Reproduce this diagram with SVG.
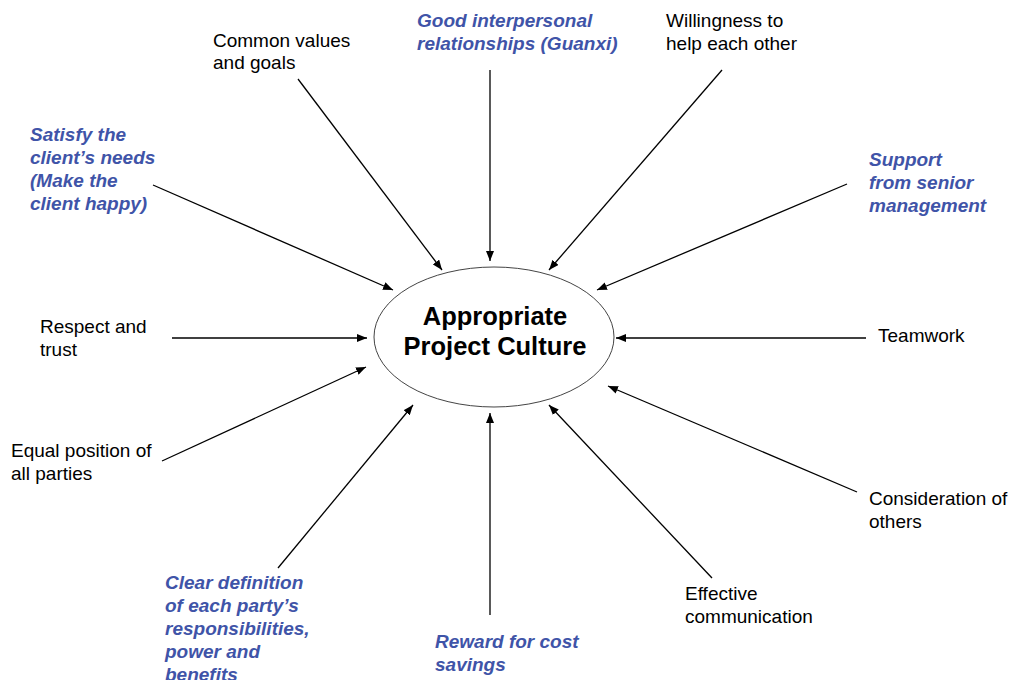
<svg xmlns="http://www.w3.org/2000/svg" width="1012" height="680" viewBox="0 0 1012 680">
<style>
.t{font-family:"Liberation Sans",Arial,sans-serif;font-size:19px;fill:#000}
.b{font-family:"Liberation Sans",Arial,sans-serif;font-size:19px;font-weight:bold;font-style:italic;fill:#3F54A8}
.title{font-family:"Liberation Sans",Arial,sans-serif;font-size:25.5px;font-weight:bold;fill:#000}
.c line{stroke:#000;stroke-width:1.3;marker-end:url(#ah)}
</style>
<defs>
<marker id="ah" viewBox="0 0 10 8" refX="10" refY="4" markerWidth="10" markerHeight="8" markerUnits="userSpaceOnUse" orient="auto">
<path d="M0,0 L10,4 L0,8 Z" fill="#000"/>
</marker>
</defs>
<rect width="1012" height="680" fill="#fff"/>
<g id="connectors" class="c">
<line x1="298" y1="79" x2="442" y2="270"/>
<line x1="490" y1="70" x2="490" y2="261"/>
<line x1="722" y1="70" x2="549" y2="270"/>
<line x1="153" y1="185" x2="393" y2="290"/>
<line x1="847" y1="184" x2="597" y2="290"/>
<line x1="172" y1="338" x2="367" y2="338"/>
<line x1="866" y1="338" x2="616" y2="338"/>
<line x1="162" y1="461" x2="366" y2="367"/>
<line x1="857" y1="492" x2="608" y2="386"/>
<line x1="278" y1="568" x2="413" y2="405"/>
<line x1="490" y1="615" x2="490" y2="413"/>
<line x1="712" y1="578" x2="549" y2="405"/>
</g>
<g id="center">
<ellipse cx="494" cy="337" rx="120" ry="70" fill="#fff" stroke="#444" stroke-width="1"/>
<text class="title" x="495" y="325" text-anchor="middle">Appropriate</text>
<text class="title" x="495" y="355" text-anchor="middle">Project Culture</text>
</g>
<g id="n-common"><text class="t" x="213" y="47">Common values</text><text class="t" x="213" y="69">and goals</text></g>
<g id="n-guanxi"><text class="b" x="417" y="27">Good interpersonal</text><text class="b" x="417" y="50">relationships (Guanxi)</text></g>
<g id="n-willing"><text class="t" x="666" y="27">Willingness to</text><text class="t" x="666" y="50">help each other</text></g>
<g id="n-satisfy"><text class="b" x="30" y="141">Satisfy the</text><text class="b" x="30" y="164">client’s needs</text><text class="b" x="30" y="187">(Make the</text><text class="b" x="30" y="210">client happy)</text></g>
<g id="n-support"><text class="b" x="869" y="166">Support</text><text class="b" x="869" y="189">from senior</text><text class="b" x="869" y="212">management</text></g>
<g id="n-respect"><text class="t" x="40" y="333">Respect and</text><text class="t" x="40" y="356">trust</text></g>
<g id="n-teamwork"><text class="t" x="878" y="342">Teamwork</text></g>
<g id="n-equal"><text class="t" x="11" y="457">Equal position of</text><text class="t" x="11" y="480">all parties</text></g>
<g id="n-consider"><text class="t" x="869" y="505">Consideration of</text><text class="t" x="869" y="528">others</text></g>
<g id="n-clear"><text class="b" x="165" y="589">Clear definition</text><text class="b" x="165" y="612">of each party’s</text><text class="b" x="165" y="635">responsibilities,</text><text class="b" x="165" y="658">power and</text><text class="b" x="165" y="681">benefits</text></g>
<g id="n-reward"><text class="b" x="435" y="648">Reward for cost</text><text class="b" x="435" y="671">savings</text></g>
<g id="n-effective"><text class="t" x="685" y="600">Effective</text><text class="t" x="685" y="623">communication</text></g>
</svg>
